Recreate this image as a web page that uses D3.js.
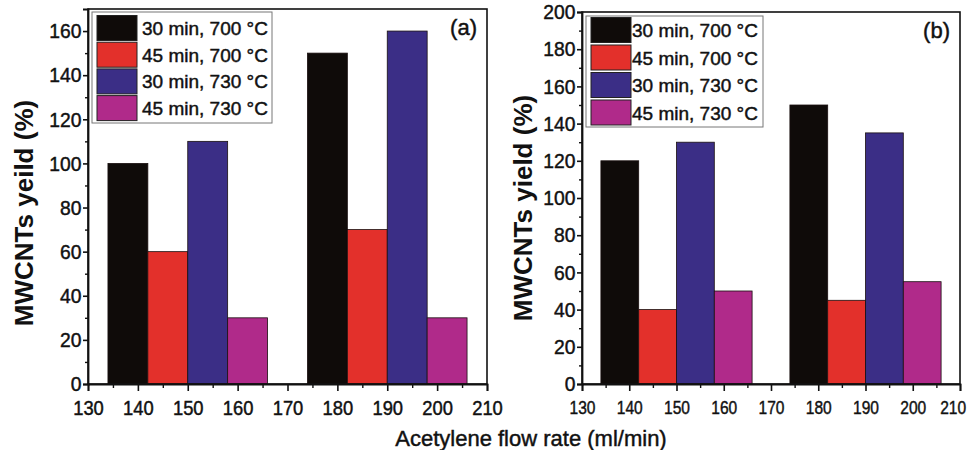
<!DOCTYPE html>
<html><head><meta charset="utf-8">
<script src="https://cdn.jsdelivr.net/npm/d3@7"></script>
<style>
body{margin:0;background:#fff;}
svg text{font-family:"Liberation Sans",Arial,sans-serif;fill:#111;}
</style></head>
<body><svg id="c" width="967" height="450"></svg>
<script>
const flowRates = [150, 190];
const seriesNames = ["30 min, 700 \u00B0C", "45 min, 700 \u00B0C", "30 min, 730 \u00B0C", "45 min, 730 \u00B0C"];
const seriesColors = ["#0f0b09", "#e3302b", "#3b2e86", "#b02a8a"];
const yieldA = [[100, 150], [60, 70], [110, 160], [30, 30]];
const yieldB = [[120, 150], [40, 45], [130, 135], [50, 55]];
const xTicks = [130, 140, 150, 160, 170, 180, 190, 200, 210];
const yTicksA = [0, 20, 40, 60, 80, 100, 120, 140, 160];
const yTicksB = [0, 20, 40, 60, 80, 100, 120, 140, 160, 180, 200];

const svg = d3.select("#c");
const heavy = sel => sel.attr("stroke", "#111").attr("stroke-width", 0.45).attr("fill", "#111");

function panel(o) {
  const x = d3.scaleLinear().domain([130, 210]).range([o.left, o.right]);
  const y = d3.scaleLinear().domain([0, o.ymax]).range([o.bottom, o.top]);
  const g = svg.append("g");
  const barW = 8;
  o.data.forEach((vals, si) => {
    g.selectAll(null).data(vals).enter().append("rect")
      .attr("x", (d, i) => x(flowRates[i] - 2 * barW + si * barW))
      .attr("width", (d, i) => x(flowRates[i] - barW + si * barW) - x(flowRates[i] - 2 * barW + si * barW))
      .attr("y", d => y(d))
      .attr("height", d => y(0) - y(d))
      .attr("fill", seriesColors[si])
      .attr("stroke", "#1a1010").attr("stroke-width", 0.8);
  });
  g.append("rect").attr("x", o.left).attr("y", o.top)
    .attr("width", o.right - o.left).attr("height", o.bottom - o.top)
    .attr("fill", "none").attr("stroke", "#111").attr("stroke-width", 1.6);
  const xMinor = d3.range(135, 210, 10);
  g.append("g").attr("transform", `translate(0,${o.bottom})`)
    .call(d3.axisBottom(x).tickValues(xMinor).tickSize(4).tickFormat(""))
    .call(a => a.select(".domain").remove())
    .selectAll("line").attr("stroke", "#111").attr("stroke-width", 1.4);
  const yMinor = d3.range(10, o.ymax, 20);
  g.append("g").attr("transform", `translate(${o.left},0)`)
    .call(d3.axisLeft(y).tickValues(yMinor).tickSize(3).tickFormat(""))
    .call(a => a.select(".domain").remove())
    .selectAll("line").attr("stroke", "#111").attr("stroke-width", 1.4);
  const xa = g.append("g").attr("transform", `translate(0,${o.bottom})`)
    .call(d3.axisBottom(x).tickValues(xTicks).tickSize(7).tickPadding(10).tickFormat(d3.format("d")));
  xa.select(".domain").attr("stroke", "#111").attr("stroke-width", 1.8);
  xa.selectAll("line").attr("stroke", "#111").attr("stroke-width", 1.6);
  xa.selectAll("text").attr("font-size", o.xfs).attr("font-family", "Liberation Sans, Arial, sans-serif")
    .attr("transform", `scale(${o.xsc},1)`).call(heavy);
  xa.selectAll(".tick").filter(d => d === 210).select("text").attr("dx", o.lastDx);
  const ya = g.append("g").attr("transform", `translate(${o.left},0)`)
    .call(d3.axisLeft(y).tickValues(o.yTicks).tickSize(5).tickPadding(2).tickFormat(d3.format("d")));
  ya.select(".domain").attr("stroke", "#111").attr("stroke-width", 1.8);
  ya.selectAll("line").attr("stroke", "#111").attr("stroke-width", 1.6);
  ya.selectAll("text").attr("font-size", 21).attr("font-family", "Liberation Sans, Arial, sans-serif")
    .attr("transform", "scale(0.92,1)").call(heavy);
  g.append("text").attr("transform", `translate(${o.ylabX},${o.ylabY}) rotate(-90)`)
    .attr("text-anchor", "middle").attr("font-size", 26).attr("font-weight", "bold")
    .text(o.ylab);
  g.append("text").attr("x", o.right - 10).attr("y", o.top + 26).attr("text-anchor", "end")
    .attr("font-size", 22).text(o.tag).call(heavy);
  const L = o.leg;
  const lg = g.append("g");
  lg.append("rect").attr("x", L.x).attr("y", L.y).attr("width", L.w).attr("height", L.h)
    .attr("fill", "#fff").attr("stroke", "#777").attr("stroke-width", 1);
  seriesNames.forEach((n, i) => {
    const cy = L.y + L.first + i * L.step;
    lg.append("rect").attr("x", L.x + 5).attr("y", cy - 12.5).attr("width", 40).attr("height", 25)
      .attr("fill", seriesColors[i]).attr("stroke", "#222").attr("stroke-width", 1);
    lg.append("text").attr("x", L.x + L.tx).attr("y", cy + 7).attr("font-size", 19)
      .text(n).call(heavy);
  });
}

panel({left: 88, right: 487, top: 9, bottom: 384, ymax: 170, yTicks: yTicksA, data: yieldA,
  ylab: "MWCNTs yeild (%)", ylabX: 33, ylabY: 213, tag: "(a)", xfs: 20, xsc: 0.92, lastDx: 0,
  leg: {x: 92, y: 12, w: 180, h: 111, first: 16, step: 26.7, tx: 50}});
panel({left: 582, right: 960, top: 12, bottom: 384, ymax: 200, yTicks: yTicksB, data: yieldB,
  ylab: "MWCNTs yield (%)", ylabX: 532, ylabY: 208, tag: "(b)", xfs: 19, xsc: 0.82, lastDx: -9,
  leg: {x: 586, y: 16, w: 177, h: 111, first: 14, step: 27.5, tx: 46}});

svg.append("text").attr("x", 531).attr("y", 446).attr("text-anchor", "middle")
  .attr("font-size", 22).text("Acetylene flow rate (ml/min)").call(heavy);
</script></body></html>
